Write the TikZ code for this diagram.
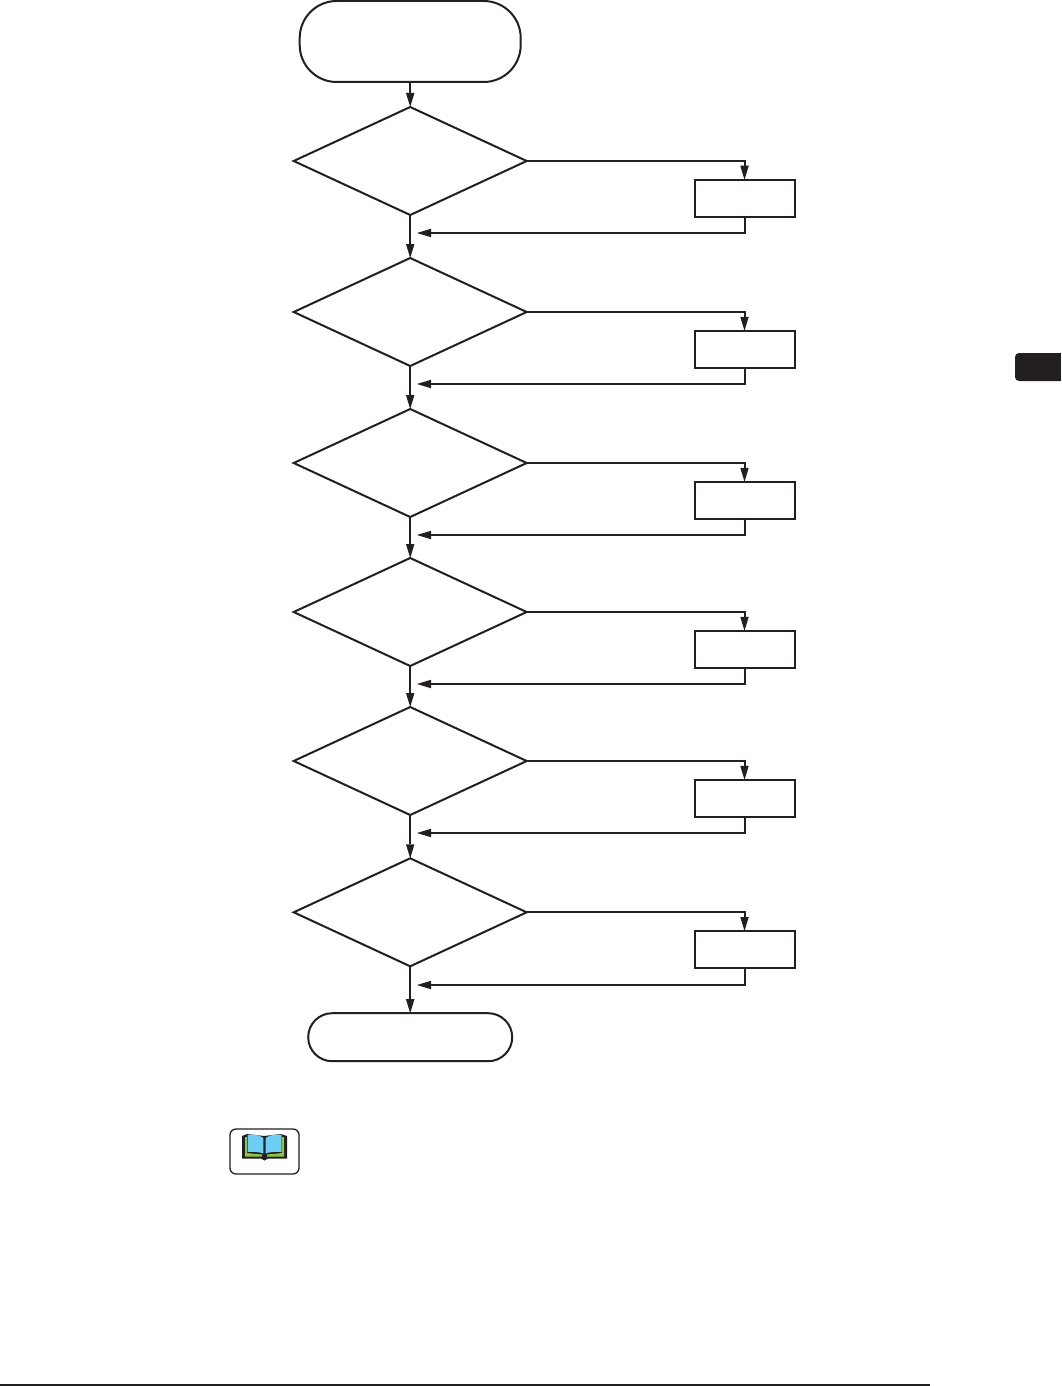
\documentclass[tikz,border=0pt]{standalone}
\usetikzlibrary{shapes.geometric,arrows.meta}
\definecolor{ink}{HTML}{231F20}
\definecolor{pagebl}{HTML}{6DCFF6}
\definecolor{leafgr}{HTML}{8DC63F}
\tikzset{
  x=1pt,y=-1pt,
  every path/.style={line width=2pt},
  every node/.style={outer sep=0pt},
  decision/.style={diamond,draw=ink,inner sep=0pt,minimum width=233pt,minimum height=108pt,shape aspect=2.15},
  procbox/.style={rectangle,draw=ink,inner sep=0pt,minimum width=100pt,minimum height=37pt},
  startbox/.style={rectangle,draw=ink,rounded corners=37pt,inner sep=0pt,minimum width=221pt,minimum height=81pt},
  endbox/.style={rectangle,draw=ink,rounded corners=24pt,inner sep=0pt,minimum width=204pt,minimum height=48pt},
  iconbox/.style={rectangle,draw=ink,line width=1.3pt,rounded corners=6pt,inner sep=0pt,minimum width=69pt,minimum height=45pt},
  flow/.style={draw=ink,-{Triangle[length=14pt,width=8.5pt,line width=0pt]}},
  plain/.style={draw=ink}
}
\begin{document}
\begin{tikzpicture}
\useasboundingbox (0,0) rectangle (1061,1386);
\fill[white] (0,0) rectangle (1061,1386);
\node[startbox] (start) at (410.2,41.5) {};
\node[decision] (d1) at (410.2,161) {};
\node[decision] (d2) at (410.2,312) {};
\node[decision] (d3) at (410.2,463) {};
\node[decision] (d4) at (410.2,612) {};
\node[decision] (d5) at (410.2,761) {};
\node[decision] (d6) at (410.2,912.3) {};
\node[endbox] (stop) at (410.2,1037.2) {};
\node[procbox] (b1) at (744.5,198.2) {};
\node[procbox] (b2) at (744.5,349.3) {};
\node[procbox] (b3) at (744.5,500.3) {};
\node[procbox] (b4) at (744.5,649.3) {};
\node[procbox] (b5) at (744.5,798.3) {};
\node[procbox] (b6) at (744.5,949.5) {};
\coordinate (r1) at (417,233);
\coordinate (r2) at (417,384);
\coordinate (r3) at (417,535);
\coordinate (r4) at (417,684);
\coordinate (r5) at (417,833);
\coordinate (r6) at (417,985);
\draw[flow] (start.south) -- (d1.north);
\draw[flow] (d1.south) -- (d2.north);
\draw[flow] (d2.south) -- (d3.north);
\draw[flow] (d3.south) -- (d4.north);
\draw[flow] (d4.south) -- (d5.north);
\draw[flow] (d5.south) -- (d6.north);
\draw[flow] (d6.south) -- (stop.north);
\foreach \i in {1,...,6}{
  \draw[flow] (d\i.east) -| (b\i.north);
  \draw[flow] (b\i.south) |- (r\i);
}
% book icon
\node[iconbox] (icon) at (264.5,1151.5) {};
\fill[ink] (242,1136) -- (247,1134) -- (264,1136) -- (281,1134) -- (287,1136) -- (287,1158.5) -- (268,1158.5) -- (264.5,1160.5) -- (261,1158.5) -- (242,1158.5) -- cycle;
\fill[leafgr] (245,1137) -- (246.8,1137) -- (246.8,1153) -- (262,1154.5) -- (262,1156.5) -- (245,1156.5) -- cycle;
\fill[leafgr] (284,1137) -- (282.2,1137) -- (282.2,1153) -- (267,1154.5) -- (267,1156.5) -- (284,1156.5) -- cycle;
\fill[pagebl] (247.5,1134.8) .. controls (253,1134) and (260,1135) .. (263.3,1138) -- (263.3,1153.5) .. controls (260,1152) and (253,1151.5) .. (247.5,1152) -- cycle;
\fill[pagebl] (281.5,1134.8) .. controls (276,1134) and (269,1135) .. (265.7,1138) -- (265.7,1153.5) .. controls (269,1152) and (276,1151.5) .. (281.5,1152) -- cycle;
% page furniture
\fill[ink,rounded corners=4pt] (1015,353) rectangle (1075,381);
\fill[white] (1061,340) rectangle (1080,390);
\draw[plain,line width=1.6pt] (0,1385.2) -- (930,1385.2);
\end{tikzpicture}
\end{document}
